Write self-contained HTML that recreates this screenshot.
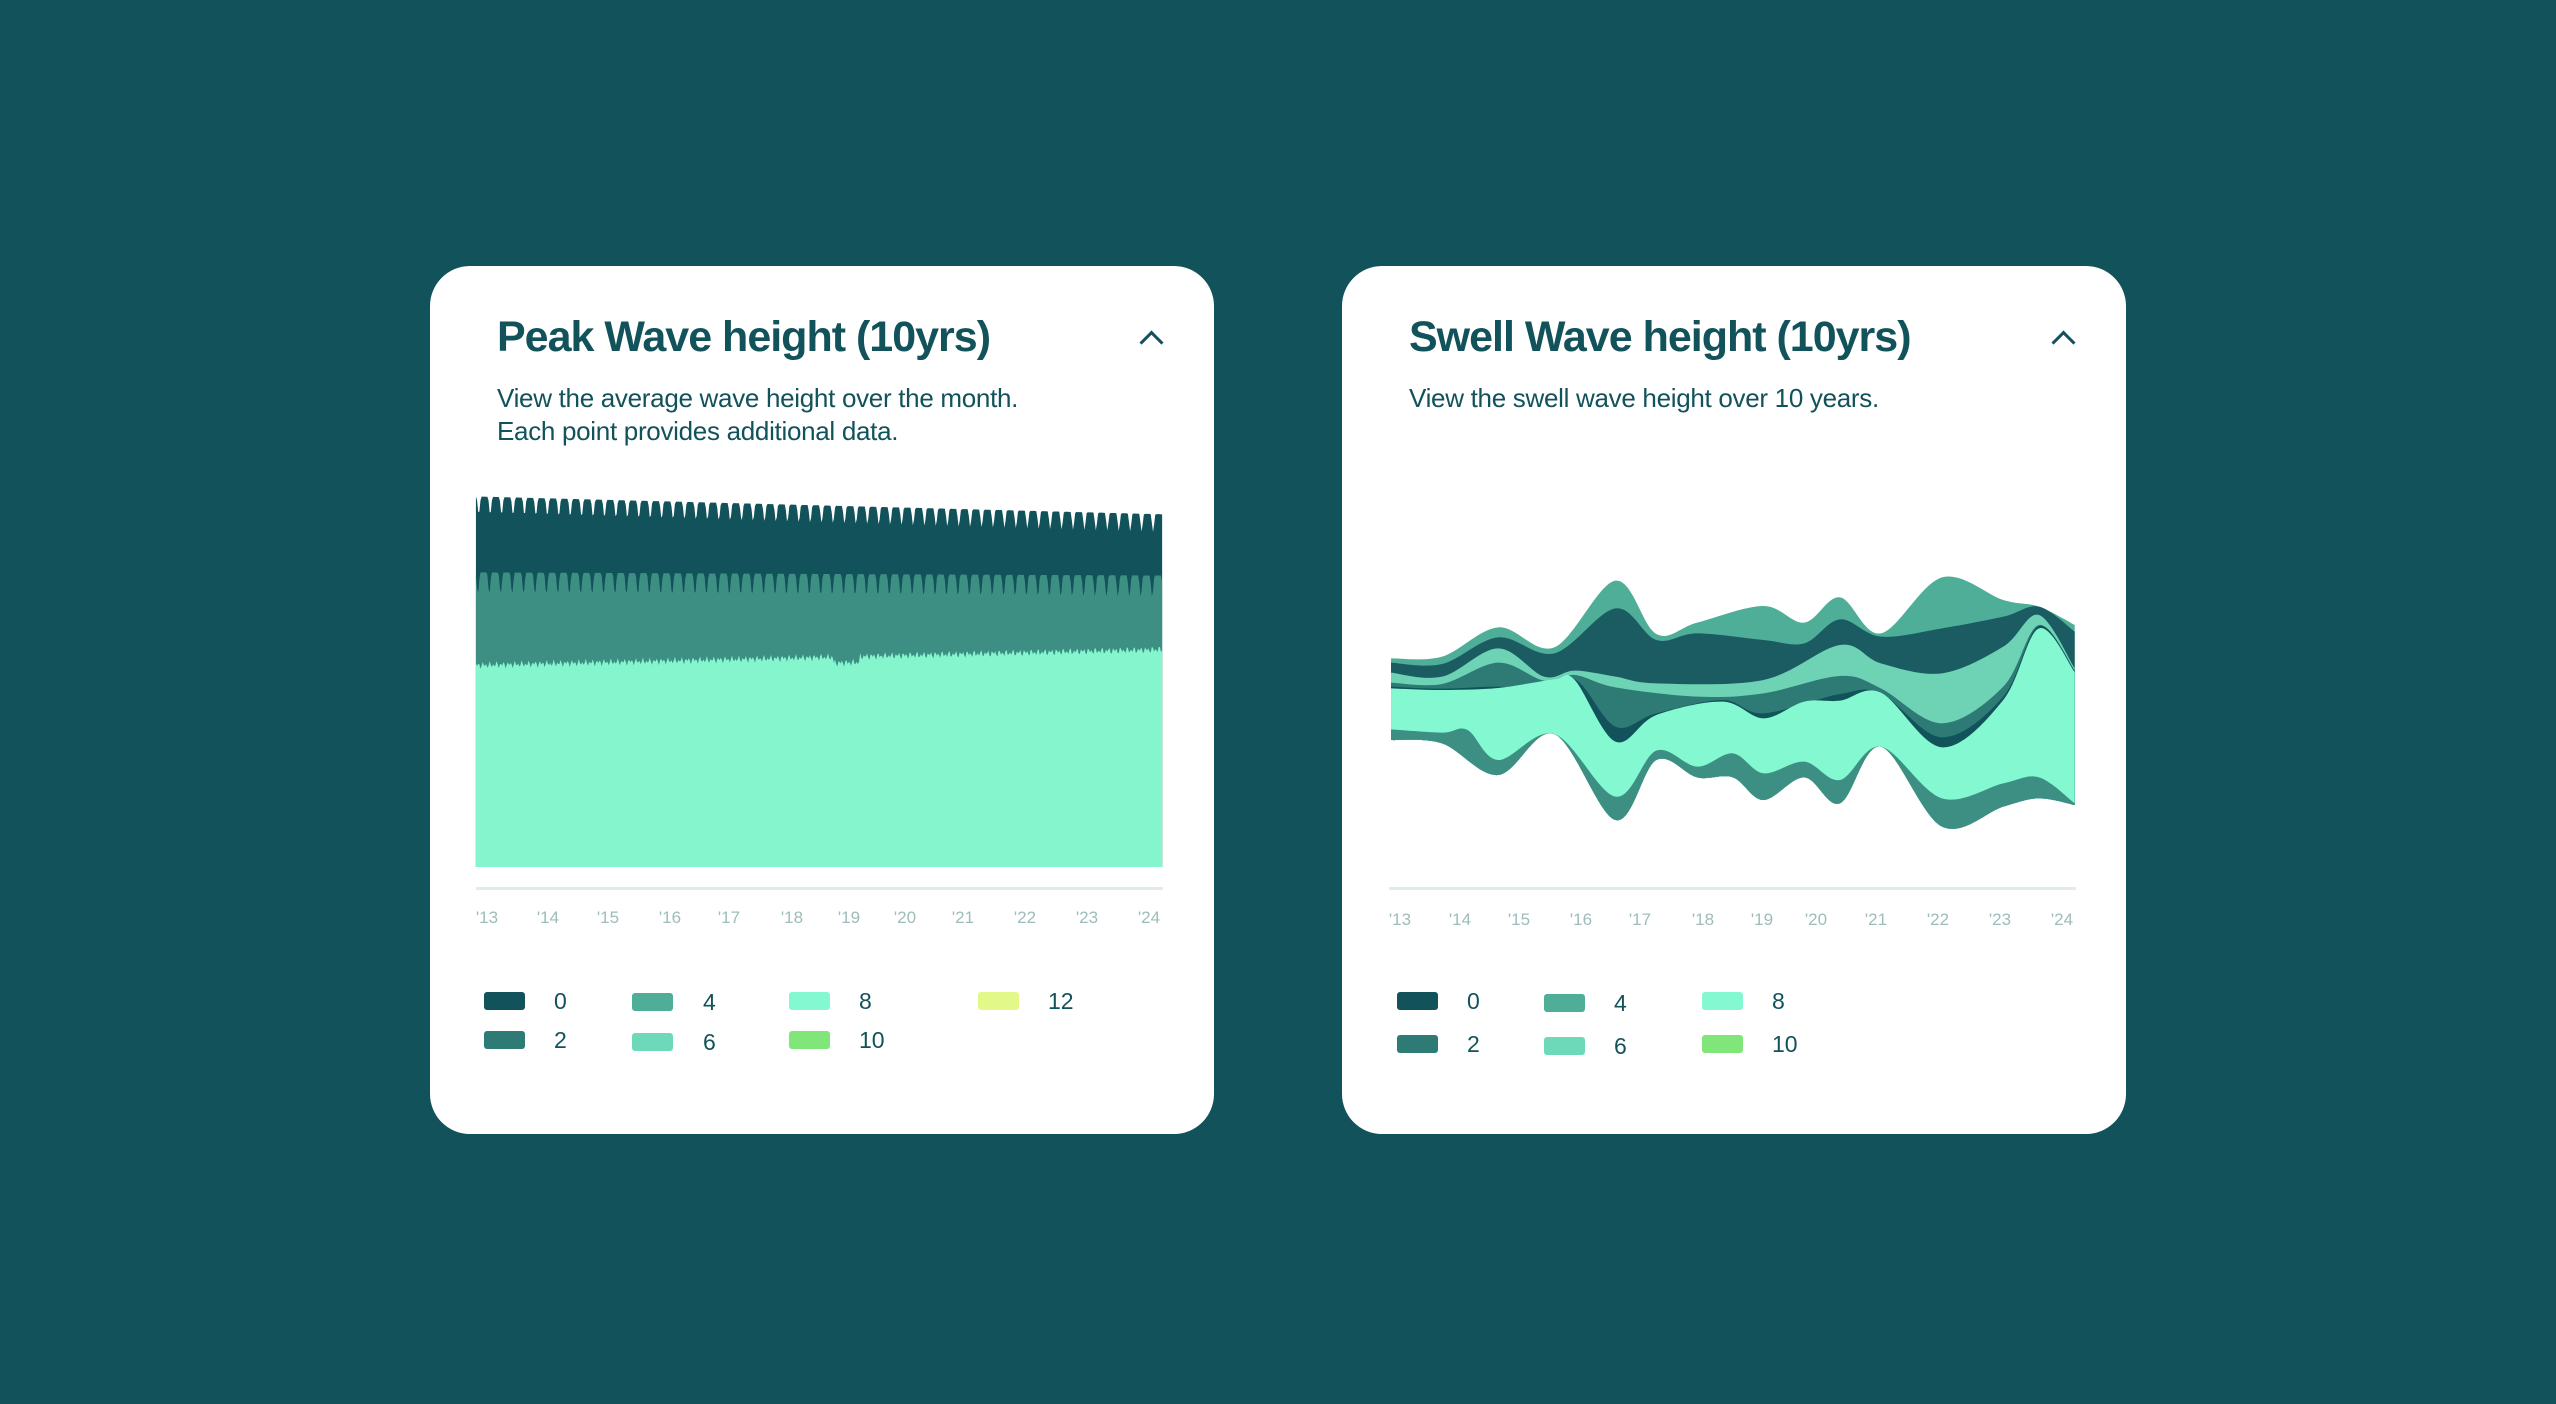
<!DOCTYPE html>
<html><head><meta charset="utf-8"><style>
html,body{margin:0;padding:0}
body{width:2556px;height:1404px;background:#12525a;position:relative;overflow:hidden;font-family:"Liberation Sans",sans-serif;color:#12525a}
.card{position:absolute;top:266px;width:784px;height:868px;background:#fff;border-radius:40px}
.t{position:absolute;left:67px;top:47px;font-size:43px;font-weight:600;letter-spacing:-1px;white-space:nowrap}
.s{position:absolute;left:67px;top:116px;font-size:26px;line-height:33px;letter-spacing:-0.3px;white-space:nowrap}
.chev{position:absolute;left:713px;top:68px;width:14px;height:14px;border-left:3px solid #12525a;border-top:3px solid #12525a;transform:rotate(45deg)}
.ax{position:absolute;height:3px;background:#e1ecea}
.tk{position:absolute;font-size:17px;color:#9dbcba;transform:translateX(-50%)}
.sw{position:absolute;width:41px;height:18px;border-radius:3px}
.lb{position:absolute;font-size:23px;line-height:23px}
svg{position:absolute}
</style></head><body>
<div class="card" style="left:430px">
<div class="t">Peak Wave height (10yrs)</div>
<div class="s">View the average wave height over the month.<br>Each point provides additional data.</div>
<div class="chev"></div>
</div>
<div class="card" style="left:1342px">
<div class="t">Swell Wave height (10yrs)</div>
<div class="s">View the swell wave height over 10 years.</div>
<div class="chev"></div>
</div>

<svg id="p1" style="left:430px;top:260px" width="800" height="620" viewBox="0 0 1568 1568" preserveAspectRatio="none"></svg>
<svg id="p2" style="left:1340px;top:540px" width="800" height="320" viewBox="0 0 1568 960" preserveAspectRatio="none"></svg>

<div class="ax" style="left:476px;top:887px;width:687px"></div>
<div class="ax" style="left:1389px;top:887px;width:687px"></div>
<div id="ticks"></div>
<div id="leg"></div>

<script>
function smooth(pts){
  let d="M"+pts[0][0]+","+pts[0][1];
  for(let i=0;i<pts.length-1;i++){
    const p0=pts[Math.max(0,i-1)],p1=pts[i],p2=pts[i+1],p3=pts[Math.min(pts.length-1,i+2)];
    const c1=[p1[0]+(p2[0]-p0[0])/6,p1[1]+(p2[1]-p0[1])/6];
    const c2=[p2[0]-(p3[0]-p1[0])/6,p2[1]-(p3[1]-p1[1])/6];
    d+="C"+c1[0].toFixed(1)+","+c1[1].toFixed(1)+" "+c2[0].toFixed(1)+","+c2[1].toFixed(1)+" "+p2[0]+","+p2[1];
  }
  return d;
}
(function(){
  const s=document.getElementById('p1');const x0=90,x1=1435,bot=1535;
  function layer(fn,col){
    let d="M"+x0+","+bot;
    for(let i=0;i<=600;i++){const t=i/600;const x=x0+(x1-x0)*t;d+="L"+x.toFixed(1)+","+fn(t,x).toFixed(1);}
    d+="L"+x1+","+bot+"Z";
    s.innerHTML+='<path d="'+d+'" fill="'+col+'"/>';
  }
  const per=22.4;
  function dip(x,ph){const v=Math.sin((x-x0)/per*2*Math.PI+ph);return Math.pow(Math.max(0,v),3);}
  layer((t,x)=>598+45*t+45*dip(x,0),'#12525a');
  layer((t,x)=>790+8*t+55*dip(x,0.5),'#3d8f83');
  layer((t,x)=>1025-40*t+6*Math.sin(x*0.9)+4*Math.sin(x*2.3)+(Math.abs(t-0.54)<0.02?15:0),'#84f5cc');
})();
(function(){
  const s=document.getElementById('p2');
  const bottom=[[100,600],[200,610],[310,705],[420,582],[540,840],[620,660],[700,712],[770,712],[830,780],[910,712],[980,790],[1060,620],[1180,860],[1300,800],[1370,775],[1440,795]];
  const layers=[
   ['#4fae98',[[100,355],[200,350],[310,262],[420,322],[540,122],[620,282],[700,248],[830,198],[910,248],[980,172],[1060,280],[1180,112],[1300,180],[1370,200],[1440,255]]],
   ['#1a5c62',[[100,368],[200,372],[310,292],[420,340],[540,205],[620,300],[700,280],[830,300],[910,310],[980,238],[1060,290],[1180,265],[1300,230],[1370,200],[1440,275]]],
   ['#6dd3b4',[[100,398],[200,410],[310,325],[400,410],[460,392],[540,410],[620,430],[830,420],[980,315],[1060,370],[1180,400],[1300,320],[1370,225],[1440,385]]],
   ['#2e7b76',[[100,428],[200,432],[310,368],[400,422],[460,405],[540,442],[700,470],[830,460],[980,408],[1060,445],[1180,550],[1300,440],[1370,255],[1440,390]]],
   ['#12525a',[[100,440],[200,446],[310,440],[380,450],[460,418],[540,560],[620,520],[750,480],[830,520],[980,462],[1060,460],[1180,592],[1300,470],[1370,258],[1440,392]]],
   ['#84f8d0',[[100,445],[200,450],[310,444],[420,418],[460,420],[540,605],[620,525],[750,485],[830,535],[910,485],[980,482],[1060,458],[1180,622],[1300,480],[1370,265],[1440,396]]],
   ['#3d8f83',[[100,568],[200,578],[250,570],[310,660],[420,582],[540,770],[620,632],[700,680],[770,640],[830,700],[910,665],[980,720],[1060,620],[1180,775],[1300,730],[1370,712],[1440,790]]]
  ];
  const bp=smooth(bottom.slice().reverse()).replace(/^M/,"L");
  let h="";
  layers.forEach(([c,top])=>{h+='<path d="'+smooth(top)+bp+'Z" fill="'+c+'"/>';});
  s.innerHTML=h;
})();
(function(){
  const labs=["'13","'14","'15","'16","'17","'18","'19","'20","'21","'22","'23","'24"];
  const a=[487,548,608,670,729,792,849,905,963,1025,1087,1149];
  const b=[1400,1460,1519,1581,1640,1703,1762,1816,1876,1938,2000,2062];
  let h="";
  labs.forEach((l,i)=>{h+='<div class="tk" style="left:'+a[i]+'px;top:908px">'+l+'</div><div class="tk" style="left:'+b[i]+'px;top:910px">'+l+'</div>';});
  document.getElementById('ticks').innerHTML=h;
  const col={0:'#12525a',2:'#2e7b76',4:'#4fae98',6:'#6dd9b9',8:'#84f8d0',10:'#80e67a',12:'#e2f98a'};
  let g="";
  function item(v,sx,lx,y){g+='<div class="sw" style="left:'+sx+'px;top:'+(y-9)+'px;background:'+col[v]+'"></div><div class="lb" style="left:'+lx+'px;top:'+(y-11)+'px">'+v+'</div>';}
  item(0,484,554,1001);item(2,484,554,1040);item(4,632,703,1002);item(6,632,703,1042);item(8,789,859,1001);item(10,789,859,1040);item(12,978,1048,1001);
  item(0,1397,1467,1001);item(2,1397,1467,1044);item(4,1544,1614,1003);item(6,1544,1614,1046);item(8,1702,1772,1001);item(10,1702,1772,1044);
  document.getElementById('leg').innerHTML=g;
})();
</script>
</body></html>
